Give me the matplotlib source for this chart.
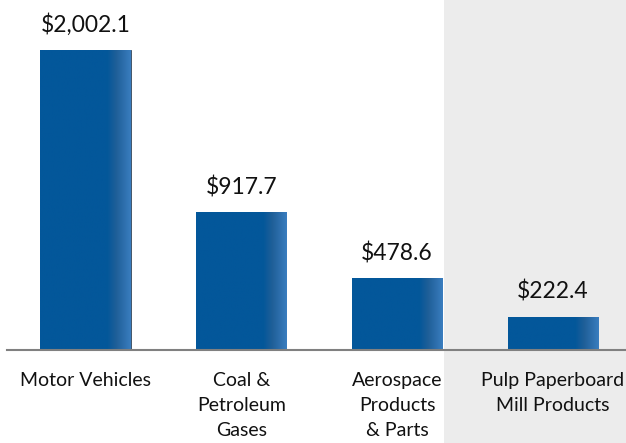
import numpy as np
import matplotlib
matplotlib.use("Agg")
import matplotlib.pyplot as plt
from matplotlib.colors import LinearSegmentedColormap
from matplotlib.patches import Rectangle
from matplotlib.transforms import blended_transform_factory

categories = ["Motor Vehicles", "Coal &\nPetroleum\nGases", "Aerospace\nProducts\n& Parts", "Pulp Paperboard\nMill Products"]
values = [2002.1, 917.7, 478.6, 222.4]
value_labels = ["$2,002.1", "$917.7", "$478.6", "$222.4"]

plt.rcParams['font.family'] = ['Lato', 'DejaVu Sans']

fig = plt.figure(figsize=(6.26, 4.43), dpi=100)
W, H = 626, 443
base_y = 350
ax = fig.add_axes([7 / W, (H - base_y) / H, 1 - 7 / W, base_y / H])
xlim = (-0.504, 3.47)
ylim = (0, 2002.1 * 350 / 300)

# gray highlight region behind the last category
trans = blended_transform_factory(ax.transData, ax.transAxes)
ax.add_patch(Rectangle((2.30, -0.4), 2.0, 1.5, transform=trans, facecolor="#ececec",
                       edgecolor="none", zorder=0, clip_on=False))

x = np.arange(len(values))
bars = ax.bar(x, values, width=0.58, color="#03579a", edgecolor="#3d4a5a", linewidth=0.6, zorder=3)

cmap = LinearSegmentedColormap.from_list("g", [(0, "#03579a"), (0.74, "#03579a"), (0.84, "#1f5f98"), (1.0, "#3a7dbf")])
grad = np.linspace(0, 1, 256).reshape(1, -1)
for b in bars:
    x0, y0 = b.get_x(), b.get_y()
    w, h = b.get_width(), b.get_height()
    im = ax.imshow(grad, cmap=cmap, aspect="auto", extent=[x0, x0 + w, y0, y0 + h], zorder=3.5,
                   interpolation="bilinear")
    im.set_clip_path(b)

ax.set_xlim(*xlim)
ax.set_ylim(*ylim)

for xi, v, lab in zip(x, values, value_labels):
    ax.annotate(lab, (xi, v), xytext=(0, 13), textcoords="offset points",
                ha="center", va="baseline", fontsize=16.5, color="#111111")

for s in ["top", "right", "left"]:
    ax.spines[s].set_visible(False)
ax.spines["bottom"].set_color("#808080")
ax.spines["bottom"].set_linewidth(1.5)
ax.spines["bottom"].set_zorder(4)
ax.set_yticks([])
ax.set_xticks(x)
ax.set_xticklabels(categories, fontsize=14, color="#111111", linespacing=1.55)
ax.tick_params(axis="x", length=0, pad=16)

fig.savefig("out.png", dpi=100)
